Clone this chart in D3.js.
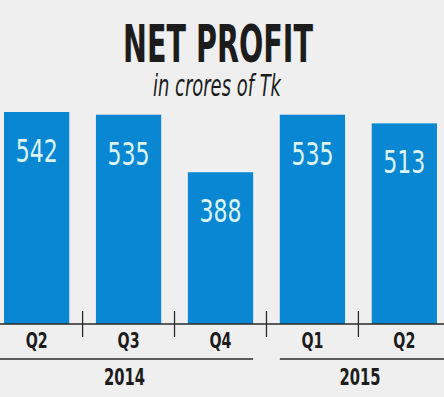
<!DOCTYPE html>
<html>
<head>
<meta charset="utf-8">
<script src="https://cdn.jsdelivr.net/npm/d3@7"></script>
<style>
body { margin: 0; background: #efefef; }
svg { display: block; }
</style>
</head>
<body>
<svg width="444" height="397"></svg>
<script>
// data
var quarters = ["Q2", "Q3", "Q4", "Q1", "Q2"];
var years = ["2014", "2014", "2014", "2015", "2015"];
var profit = [542, 535, 388, 535, 513];
var yearNames = ["2014", "2015"];

var width = 444;
var height = 397;
var baseY = 324;

var svg = d3.select("svg");
svg.append("rect").attr("width", width).attr("height", height).style("fill", "#efefef");

var keys = quarters.map(function(q, i){return years[i] + "-" + q});

var xScale = d3.scaleBand().domain(keys).range([4, 437]).paddingInner(0.29).paddingOuter(0);
var yScale = d3.scaleLinear().domain([0, 542]).range([baseY, 112]);

var narrow = "'DejaVu Sans Condensed', 'Liberation Sans Narrow', sans-serif";

// squeeze text sideways to a target width (the original font is very condensed)
function squeeze(sel, w, cx, y){
  sel.each(function(d, i){
    var t = d3.select(this);
    var len = this.getComputedTextLength();
    var tw = typeof w == "function" ? w(d, i) : w;
    var tx = typeof cx == "function" ? cx(d, i) : cx;
    var ty = typeof y == "function" ? y(d, i) : y;
    t.attr("x", 0).attr("y", 0)
    .attr("transform", "translate(" + tx + "," + ty + ") scale(" + (tw / len) + ",1)");
  });
}

// title
svg.append("text")
.attr("text-anchor", "middle")
.style("font-family", narrow).style("font-weight", "bold").style("font-size", "51px")
.style("fill", "#1c1c1c")
.text("NET PROFIT")
.call(squeeze, 190, 218, 62);

svg.append("text")
.attr("text-anchor", "middle")
.style("font-family", narrow).style("font-style", "italic").style("font-size", "30px")
.style("fill", "#1c1c1c")
.text("in crores of Tk")
.call(squeeze, 128, 217, 96);

// bars
var barsG = svg.append("g").attr("id", "barsG")
.selectAll("g")
.data(profit)
.enter()
.append("g")
.attr("class", "barG");

barsG.append("rect")
.attr("x", function(d, i){return xScale(keys[i])})
.attr("y", function(d){return yScale(d)})
.attr("width", xScale.bandwidth())
.attr("height", function(d){return baseY - yScale(d)})
.style("fill", "#0a87d2");

barsG.append("text")
.attr("text-anchor", "middle")
.style("font-family", narrow).style("font-size", "32px")
.style("fill", "#dcf5f3")
.text(function(d){return d})
.call(squeeze, 42,
  function(d, i){return xScale(keys[i]) + xScale.bandwidth() / 2},
  function(d){return yScale(d) + 50});

// baseline and ticks between bars
svg.append("line")
.attr("x1", 0).attr("x2", width).attr("y1", baseY).attr("y2", baseY)
.style("stroke", "#2a2a2a").style("stroke-width", "1.5px");

var gap = xScale.step() * xScale.paddingInner() / 2;
svg.append("g").attr("id", "ticksG")
.selectAll("line")
.data(keys.slice(1))
.enter()
.append("line")
.attr("x1", function(d){return xScale(d) - gap})
.attr("x2", function(d){return xScale(d) - gap})
.attr("y1", 311).attr("y2", 337)
.style("stroke", "#2a2a2a").style("stroke-width", "1.3px");

// quarter labels
svg.append("g").attr("id", "quarterG")
.selectAll("text")
.data(keys)
.enter()
.append("text")
.attr("text-anchor", "middle")
.style("font-family", narrow).style("font-weight", "bold").style("font-size", "21px")
.style("fill", "#1c1c1c")
.text(function(d, i){return quarters[i]})
.call(squeeze, 22, function(d){return xScale(d) + xScale.bandwidth() / 2}, 348);

// year brackets
function yearStart(y, j){
  if (j == 0) return 0;
  return xScale(keys[years.indexOf(y)]);
}
function yearEnd(y, j){
  if (j == yearNames.length - 1) return width;
  return xScale(keys[years.lastIndexOf(y)]) + xScale.bandwidth();
}

var yearG = svg.append("g").attr("id", "yearG")
.selectAll("g")
.data(yearNames)
.enter()
.append("g");

yearG.append("line")
.attr("x1", yearStart)
.attr("x2", yearEnd)
.attr("y1", 359).attr("y2", 359)
.style("stroke", "#2a2a2a").style("stroke-width", "1.5px");

yearG.append("text")
.attr("text-anchor", "middle")
.style("font-family", narrow).style("font-weight", "bold").style("font-size", "23px")
.style("fill", "#1c1c1c")
.text(function(y){return y})
.call(squeeze, 41, function(y, j){return (yearStart(y, j) + yearEnd(y, j)) / 2 - 2}, 385);
</script>
</body>
</html>
